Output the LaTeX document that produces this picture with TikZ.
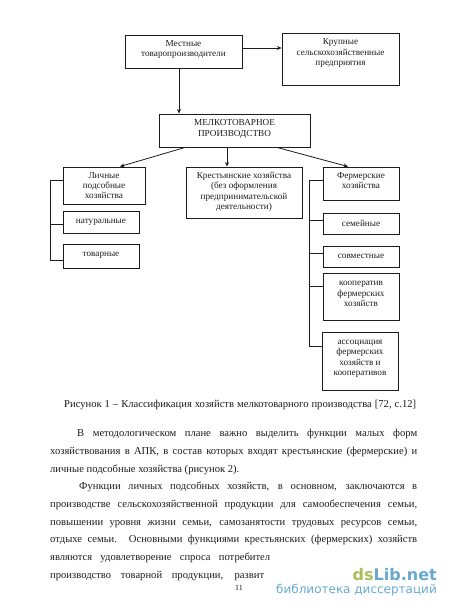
\documentclass[tikz,border=0pt]{standalone}
\usepackage{fontspec}
\setmainfont{Liberation Serif}
\newfontfamily\marksans{DejaVu Sans}
\usetikzlibrary{arrows.meta}
\definecolor{ink}{HTML}{1C1C1C}
\definecolor{markgreen}{HTML}{A9BD5A}
\definecolor{markblue}{HTML}{67A9CE}
\tikzset{
  farmbox/.style={draw=ink,line width=0.9pt,inner sep=0pt,align=center,text=ink,
    font=\fontsize{9.2}{10.4}\selectfont},
  farmlink/.style={draw=ink,line width=0.8pt},
  farmarrow/.style={farmlink,-{Stealth[length=4.5pt,width=4pt]}},
  bodyline/.style={anchor=base west,inner sep=0pt,text=ink,font=\fontsize{10.6}{12}\selectfont}
}
\begin{document}
\begin{tikzpicture}[x=1pt,y=-1pt]
  \useasboundingbox (0,0) rectangle (450,610);
  \node[farmbox,minimum width=117pt,minimum height=33pt,text depth=6pt] (mestnye) at (183.5,51.5) {Местные\\товаропроизводители};
  \node[farmbox,minimum width=117pt,minimum height=52pt,text depth=14pt] (krupnye) at (340.5,59) {Крупные\\сельскохозяйственные\\предприятия};
  \node[farmbox,minimum width=151pt,minimum height=33pt,text depth=5pt] (melko) at (234.5,130.5) {МЕЛКОТОВАРНОЕ\\ПРОИЗВОДСТВО};
  \node[farmbox,minimum width=82pt,minimum height=37pt] (lichnye) at (104,185.5) {Личные\\подсобные\\хозяйства};
  \node[farmbox,minimum width=116pt,minimum height=51pt,text depth=3pt] (krest) at (244,192.5) {Крестьянские хозяйства\\(без оформления\\предпринимательской\\деятельности)};
  \node[farmbox,minimum width=76pt,minimum height=33pt,text depth=6pt] (fermer) at (361,183.5) {Фермерские\\хозяйства};
  \node[farmbox,minimum width=76pt,minimum height=22pt,text depth=2pt] (natur) at (101,222) {натуральные};
  \node[farmbox,minimum width=76pt,minimum height=24pt,text depth=4pt] (tovar) at (101,256) {товарные};
  \node[farmbox,minimum width=76pt,minimum height=21pt,text depth=0pt] (semein) at (361,223.5) {семейные};
  \node[farmbox,minimum width=76pt,minimum height=21pt,text depth=0pt] (sovmest) at (361,256.5) {совместные};
  \node[farmbox,minimum width=76pt,minimum height=47pt,text depth=5pt] (kooper) at (361,296.5) {кооператив\\фермерских\\хозяйств};
  \node[farmbox,minimum width=76pt,minimum height=58pt,text depth=6pt] (assoc) at (360,361) {ассоциация\\фермерских\\хозяйств и\\кооперативов};

  \draw[farmarrow] ([yshift=3.5pt]mestnye.east) -- ([yshift=3.5pt]mestnye.east -| krupnye.west);
  \draw[farmarrow] ([xshift=-4.5pt]mestnye.south) -- ([xshift=-4.5pt]mestnye.south |- melko.north);
  \draw[farmarrow] ([xshift=-49.5pt]melko.south) -- ([xshift=16pt]lichnye.north);
  \draw[farmarrow] ([xshift=-7.5pt]melko.south) -- ([xshift=-7.5pt]melko.south |- krest.north);
  \draw[farmarrow] ([xshift=42.5pt]melko.south) -- ([xshift=-13pt]fermer.north);

  \coordinate (ltop) at (50,180);
  \coordinate (lbot) at (50,260);
  \draw[farmlink] (ltop -| lichnye.west) -- (ltop) -- (lbot) -- (lbot -| tovar.west);
  \draw[farmlink] (50,224) -- (50,224 -| natur.west);
  \coordinate (rtop) at (309,180);
  \coordinate (rbot) at (309,346);
  \draw[farmlink] (rtop -| fermer.west) -- (rtop) -- (rbot) -- (rbot -| assoc.west);
  \draw[farmlink] (309,220) -- (309,220 -| semein.west);
  \draw[farmlink] (309,253) -- (309,253 -| sovmest.west);
  \draw[farmlink] (309,286) -- (309,286 -| kooper.west);

  \node[bodyline] (caption) at (64,407) {\makebox[352pt][s]{Рисунок 1 – Классификация хозяйств мелкотоварного производства [72, с.12]}};
  \node[bodyline] (line1) at (77,436) {\makebox[340pt][s]{В методологическом плане важно выделить функции малых форм}};
  \node[bodyline] (line2) at (50,454) {\makebox[367pt][s]{хозяйствования в АПК, в состав которых входят крестьянские (фермерские) и}};
  \node[bodyline] (line3) at (50,472) {личные подсобные хозяйства (рисунок 2).};
  \node[bodyline] (line4) at (79,489) {\makebox[338pt][s]{Функции личных подсобных хозяйств, в основном, заключаются в}};
  \node[bodyline] (line5) at (50,507) {\makebox[367pt][s]{производстве сельскохозяйственной продукции для самообеспечения семьи,}};
  \node[bodyline] (line6) at (50,525) {\makebox[367pt][s]{повышении уровня жизни семьи, самозанятости трудовых ресурсов семьи,}};
  \node[bodyline] (line7) at (50,542) {\makebox[367pt][s]{отдыхе семьи. Основными функциями крестьянских (фермерских) хозяйств}};
  \node[bodyline] (line8) at (50,560) {\makebox[220pt][s]{являются удовлетворение спроса потребител}};
  \node[bodyline] (line9) at (50,578) {\makebox[214pt][s]{производство товарной продукции, развит}};
  \node[text=ink,inner sep=0pt,font=\fontsize{8}{9}\selectfont] (pagenum) at (239,588) {11};

  \node[anchor=base east,inner sep=0pt,font=\marksans\bfseries\fontsize{16}{18}\selectfont] (marktop) at (437,580) {\textcolor{markgreen}{ds}\textcolor{markblue}{Lib.net}};
  \node[anchor=base east,inner sep=0pt,text=markblue,font=\marksans\fontsize{12}{14}\selectfont] (markbot) at (437,593) {библиотека диссертаций};
\end{tikzpicture}
\end{document}
